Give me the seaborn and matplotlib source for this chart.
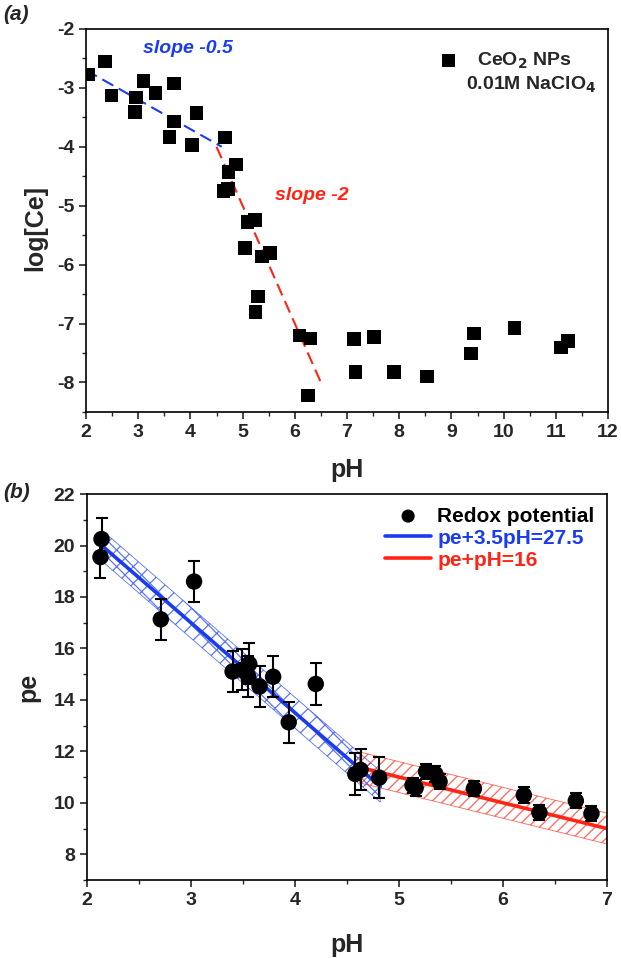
import matplotlib
matplotlib.use("Agg")
import matplotlib.pyplot as plt
import seaborn as sns
import pandas as pd
from matplotlib.ticker import MultipleLocator

# ---- panel (a): dissolved Ce vs pH
ph_a = [2.05, 2.36, 2.49, 2.96, 2.94, 3.10, 3.33, 3.69, 3.69, 3.60, 4.12, 4.03,
        4.66, 4.87, 4.73, 4.63, 4.72, 5.09, 5.24, 5.05, 5.37, 5.52, 5.29, 5.25,
        6.09, 6.30, 6.25, 7.13, 7.16, 7.52, 7.90, 8.53, 9.43, 9.37, 10.21,
        11.10, 11.23]
logce_a = [-2.77, -2.55, -3.13, -3.16, -3.41, -2.88, -3.09, -2.93, -3.57, -3.83,
           -3.43, -3.97, -3.84, -4.30, -4.43, -4.75, -4.72, -5.28, -5.24, -5.72,
           -5.86, -5.80, -6.54, -6.80, -7.20, -7.25, -8.22, -7.26, -7.82, -7.23,
           -7.82, -7.90, -7.17, -7.51, -7.08, -7.41, -7.30]
slope1_ph = [2.0, 4.6]
slope1_y = [-2.70, -4.00]
slope2_ph = [4.5, 6.5]
slope2_y = [-4.00, -8.00]
xticks_a = [2, 3, 4, 5, 6, 7, 8, 9, 10, 11, 12]
yticks_a = [-8, -7, -6, -5, -4, -3, -2]

# ---- panel (b): redox potential
ph_b = [2.14, 2.13, 2.71, 3.03, 3.40, 3.49, 3.56, 3.55, 3.66, 3.79, 3.94, 4.20,
        4.58, 4.63, 4.81, 5.13, 5.16, 5.26, 5.35, 5.39, 5.72, 6.20, 6.35, 6.70,
        6.85]
pe_b = [20.25, 19.55, 17.13, 18.60, 15.10, 15.17, 15.40, 14.92, 14.52, 14.90,
        13.13, 14.62, 11.12, 11.28, 10.98, 10.68, 10.58, 11.22, 11.12, 10.82,
        10.55, 10.30, 9.62, 10.08, 9.58]
err_b = [0.8] * 15 + [0.3] * 10
blue_ph = [2.14, 4.82]
blue_pe = [20.01, 10.63]
red_ph = [4.62, 7.0]
red_pe = [11.38, 9.0]
band_half = 0.6
xticks_b = [2, 3, 4, 5, 6, 7]
yticks_b = [8, 10, 12, 14, 16, 18, 20, 22]

BLUE = "#1a3cf0"
RED = "#ff2414"

sns.set_style("ticks")
plt.rcParams["font.family"] = ["Liberation Sans", "DejaVu Sans"]
plt.rcParams["font.weight"] = "bold"
plt.rcParams["axes.linewidth"] = 1.2
plt.rcParams["hatch.linewidth"] = 0.9

fig = plt.figure(figsize=(6.21, 9.58), dpi=100)
ax1 = fig.add_axes([0.1385, 0.570, 0.8406, 0.3998])
ax2 = fig.add_axes([0.140, 0.0814, 0.8375, 0.4029])


def style_axis(ax, xt, yt):
    ax.set_xticks(xt, [str(v) for v in xt], fontweight="bold", fontsize=14)
    ax.set_yticks(yt, [str(v) for v in yt], fontweight="bold", fontsize=14)
    ax.tick_params(which="major", direction="out", length=5, width=1.2,
                   top=False, right=False)
    ax.tick_params(which="minor", direction="out", length=3, width=1.0,
                   top=False, right=False)
    for s in ax.spines.values():
        s.set_visible(True)
        s.set_color("black")


# panel (a)
df_a = pd.DataFrame({"pH": ph_a, "logCe": logce_a})
sns.scatterplot(data=df_a, x="pH", y="logCe", marker="s", s=95, color="black",
                edgecolor="none", ax=ax1, label="CeO$_2$ NPs", zorder=3)
sns.lineplot(x=slope1_ph, y=slope1_y, ax=ax1, color=BLUE, lw=1.5,
             legend=False, zorder=2)
ax1.lines[-1].set_linestyle((0, (6, 3)))
sns.lineplot(x=slope2_ph, y=slope2_y, ax=ax1, color=RED, lw=1.5,
             legend=False, zorder=2)
ax1.lines[-1].set_linestyle((0, (6, 3)))
style_axis(ax1, xticks_a, yticks_a)
ax1.set_xlim(2, 12)
ax1.set_ylim(-8.5, -2)
ax1.xaxis.set_minor_locator(MultipleLocator(0.5))
ax1.yaxis.set_minor_locator(MultipleLocator(0.5))
ax1.set_xlabel("pH", fontsize=18, fontweight="bold")
ax1.set_ylabel("log[Ce]", fontsize=18, fontweight="bold")
ax1.xaxis.set_label_coords(0.5, -0.12)
ax1.yaxis.set_label_coords(-0.075, 0.48)
leg = ax1.legend(loc="upper right", frameon=False, handletextpad=0.5,
                 markerscale=0.95, bbox_to_anchor=(0.965, 0.99),
                 prop={"weight": "bold", "size": 14})
ax1.text(0.977, 0.855, "0.01M NaClO$_4$", transform=ax1.transAxes,
         ha="right", va="center", fontsize=14, fontweight="bold")
ax1.text(0.11, 0.95, "slope -0.5", transform=ax1.transAxes, color=BLUE,
         fontsize=14, fontweight="bold", style="italic", ha="left", va="center")
ax1.text(0.362, 0.564, "slope -2", transform=ax1.transAxes, color=RED,
         fontsize=14, fontweight="bold", style="italic", ha="left", va="center")

# panel (b)
df_b = pd.DataFrame({"pH": ph_b, "pe": pe_b, "err": err_b})
lo_b = [p - band_half for p in blue_pe]
hi_b = [p + band_half for p in blue_pe]
ax2.fill_between(blue_ph, lo_b, hi_b, facecolor="none", edgecolor=BLUE,
                 hatch="xx", linewidth=0.6, alpha=0.7, zorder=1)
lo_r = [p - band_half for p in red_pe]
hi_r = [p + band_half for p in red_pe]
ax2.fill_between(red_ph, lo_r, hi_r, facecolor="none", edgecolor=RED,
                 hatch="///", linewidth=0.6, alpha=0.7, zorder=1)
ax2.errorbar(df_b["pH"], df_b["pe"], yerr=df_b["err"], fmt="none",
             ecolor="black", elinewidth=1.5, capsize=4, capthick=1.5, zorder=3)
sns.scatterplot(data=df_b, x="pH", y="pe", marker="o", s=140, color="black",
                edgecolor="none", ax=ax2, label="Redox potential", zorder=4)
sns.lineplot(x=blue_ph, y=blue_pe, ax=ax2, color=BLUE, lw=2.6,
             label="pe+3.5pH=27.5", zorder=2)
sns.lineplot(x=red_ph, y=red_pe, ax=ax2, color=RED, lw=2.6,
             label="pe+pH=16", zorder=2)
style_axis(ax2, xticks_b, yticks_b)
ax2.set_xlim(2, 7)
ax2.set_ylim(7, 22)
ax2.xaxis.set_minor_locator(MultipleLocator(0.5))
ax2.yaxis.set_minor_locator(MultipleLocator(1))
ax2.set_xlabel("pH", fontsize=18, fontweight="bold")
ax2.set_ylabel("pe", fontsize=18, fontweight="bold")
ax2.xaxis.set_label_coords(0.5, -0.137)
ax2.yaxis.set_label_coords(-0.09, 0.5)
leg2 = ax2.legend(loc="upper right", frameon=False,
                  handlelength=2.2, handletextpad=0.3, labelspacing=0.15,
                  borderaxespad=0.2, markerscale=0.8,
                  prop={"weight": "bold", "size": 15})
for txt, col in zip(leg2.get_texts(), ["black", BLUE, RED]):
    txt.set_color(col)

fig.text(0.005, 1 - 15 / 958, "(a)", fontsize=15, fontweight="bold",
         style="italic", va="center", ha="left")
fig.text(0.005, 1 - 493 / 958, "(b)", fontsize=15, fontweight="bold",
         style="italic", va="center", ha="left")

fig.savefig("out.png", dpi=100)
